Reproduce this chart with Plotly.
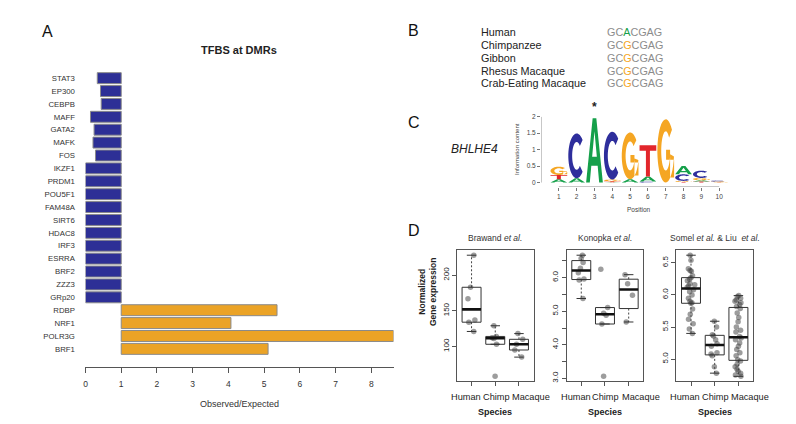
import numpy as np
import plotly.graph_objects as go

W, H = 796, 424
FONT = "Liberation Sans, Arial, Helvetica, sans-serif"


def fx(p):
    return p / W


def fy(p):
    return 1 - p / H


# ---------------- Panel A data ----------------
tf_names = ["STAT3", "EP300", "CEBPB", "MAFF", "GATA2", "MAFK", "FOS", "IKZF1",
            "PRDM1", "POU5F1", "FAM48A", "SIRT6", "HDAC8", "IRF3", "ESRRA", "BRF2",
            "ZZZ3", "GRp20", "RDBP", "NRF1", "POLR3G", "BRF1"]
tf_ratio = [0.33, 0.42, 0.44, 0.14, 0.24, 0.21, 0.28, 0.0, 0.0, 0.0, 0.0, 0.0,
            0.0, 0.0, 0.0, 0.0, 0.0, 0.0, 5.36, 4.07, 8.62, 5.11]
obs_ticks = [0, 1, 2, 3, 4, 5, 6, 7, 8]

# ---------------- Panel B data ----------------
species_b = ["Human", "Chimpanzee", "Gibbon", "Rhesus Macaque", "Crab-Eating Macaque"]
seq_b = ["GCACGAG", "GCGCGAG", "GCGCGAG", "GCGCGAG", "GCGCGAG"]
var_site = 2

# ---------------- Panel C data ----------------
logo_pos = [1, 2, 3, 4, 5, 6, 7, 8, 9, 10]
ic_A = [0.10, 0.13, 1.95, 0.01, 0.10, 0.15, 0.00, 0.25, 0.04, 0.00]
ic_C = [0.00, 1.36, 0.00, 1.45, 0.00, 0.03, 0.00, 0.20, 0.22, 0.03]
ic_G = [0.25, 0.00, 0.00, 0.05, 1.42, 0.00, 1.92, 0.03, 0.07, 0.02]
ic_T = [0.13, 0.00, 0.00, 0.03, 0.00, 0.95, 0.00, 0.02, 0.03, 0.01]
ic_ticks = [0, 0.5, 1, 1.5, 2]
star_pos = 3

# ---------------- Panel D data ----------------
groups = ["Human", "Chimp", "Macaque"]
brawand_human = [228, 183, 167, 137, 134, 121]
brawand_chimp = [129, 114, 112, 111, 103, 58]
brawand_macaque = [118, 110, 103, 95, 85]
konopka_human = [5.38, 5.93, 5.96, 6.15, 6.28, 6.45, 6.57, 6.67]
konopka_chimp = [3.06, 4.62, 4.88, 4.94, 5.11, 6.25]
konopka_macaque = [4.68, 5.48, 5.82, 6.09]
somel_human = [5.40, 5.47, 5.55, 5.62, 5.70, 5.78, 5.87, 5.88, 5.90, 5.95, 6.00,
               6.05, 6.08, 6.12, 6.14, 6.16, 6.18, 6.22, 6.25, 6.27, 6.30, 6.37,
               6.38, 6.41, 6.54, 6.62]
somel_chimp = [4.78, 4.88, 5.05, 5.08, 5.10, 5.20, 5.24, 5.30, 5.36, 5.38, 5.50, 5.59]
somel_macaque = [4.73, 4.75, 4.78, 4.81, 4.84, 4.88, 4.92, 4.97, 4.99, 5.05, 5.10,
                 5.15, 5.20, 5.25, 5.30, 5.33, 5.35, 5.42, 5.45, 5.50, 5.58, 5.65,
                 5.72, 5.79, 5.82, 5.85, 5.88, 5.90, 5.92, 5.95, 5.97, 5.99]
d_titles = ["Brawand <i>et al.</i>", "Konopka <i>et al.</i>",
            "Somel <i>et al.</i> & Liu  <i>et al.</i>"]
d_ticks = [[100, 150, 200], [3.0, 3.5, 4.0, 4.5, 5.0, 5.5, 6.0, 6.5], [5.0, 5.5, 6.0, 6.5]]
d_ticktext = [["100", "150", "200"], ["3.0", "", "4.0", "", "5.0", "", "6.0", ""],
              ["5.0", "5.5", "6.0", "6.5"]]

# ---------------- styles ----------------
BLUE = "#2D2F96"
ORANGE = "#EBA326"
COL_A, COL_C, COL_G, COL_T = "#15A04A", "#2E2E9C", "#F5A623", "#E2262B"
AXC = "#555555"
GROUP_LABEL_X = [0.76, 2.04, 3.50]   # label placement (layout), spread as in the figure

fig = go.Figure()
ann = []


def text(t, x, y, size, color="#222", xanchor="center", angle=0):
    ann.append(dict(text=t, x=fx(x), y=fy(y), xref="paper", yref="paper", showarrow=False,
                    font=dict(family=FONT, size=size, color=color), xanchor=xanchor,
                    yanchor="middle", textangle=angle))


# ---------------- Panel A ----------------
bar_cols = [BLUE if r < 1 else ORANGE for r in tf_ratio]
fig.add_trace(go.Bar(y=tf_names, x=[r - 1 for r in tf_ratio], base=1, orientation="h",
                     marker=dict(color=bar_cols, line=dict(color="#8a8a8a", width=1)),
                     xaxis="x", yaxis="y", hoverinfo="skip"))
fig.update_layout(
    bargap=0.15,
    xaxis=dict(domain=[fx(83.7), fx(392.5)], range=[0, max(tf_ratio)], anchor="y",
               tickvals=obs_ticks, ticks="outside", ticklen=5, tickcolor=AXC,
               showline=True, linecolor=AXC, linewidth=1, showgrid=False, zeroline=False,
               tickfont=dict(family=FONT, size=8.5, color="#333"), ticklabelstandoff=4),
    yaxis=dict(domain=[fy(367), fy(68.5)], range=[len(tf_names) + 0.38, -0.5], anchor="x",
               type="category", categoryorder="array", categoryarray=tf_names,
               ticks="outside", ticklen=8, tickcolor="rgba(0,0,0,0)", showline=False,
               showgrid=False, zeroline=False,
               tickfont=dict(family=FONT, size=7.8, color="#333")),
)
text("A", 46, 28, 16, "#111")
text("<b>TFBS at DMRs</b>", 238, 47, 11, "#222")
text("Observed/Expected", 238, 405, 9, "#333")

# ---------------- Panel B ----------------
text("B", 413, 27, 16, "#111")
row_y = [28.3, 41.7, 54.6, 67.4, 80.3]
for name, seq, yy in zip(species_b, seq_b, row_y):
    text(name, 478, yy, 10.8, "#222", xanchor="left")
    c = seq[var_site]
    vc = COL_A if c == "A" else COL_G
    s = (seq[:var_site] + f"<span style='color:{vc}'>{c}</span>" + seq[var_site + 1:])
    text(f"<span style='color:#8c8c8c'>{s}</span>", 605, yy, 10.8, "#8c8c8c", xanchor="left")

# ---------------- Panel C (sequence logo) ----------------
text("C", 413, 120, 16, "#111")
text("<i>BHLHE4</i>", 448, 147, 12, "#222", xanchor="left")
text("Information content", 517, 147, 6, "#444", angle=-90)


def arc(cx, cy, rx, ry, a0, a1, n=36):
    t = np.radians(np.linspace(a0, a1, n))
    return list(zip(cx + rx * np.cos(t), cy + ry * np.sin(t)))


def rect(x0, y0, x1, y1):
    return [(x0, y0), (x1, y0), (x1, y1), (x0, y1)]


GLYPHS = {
    "C": [arc(0.5, 0.5, 0.5, 0.5, 45, 315) + arc(0.5, 0.5, 0.27, 0.31, 315, 45)],
    "G": [arc(0.5, 0.5, 0.5, 0.5, 42, 350) + arc(0.5, 0.5, 0.27, 0.31, 350, 42),
          rect(0.52, 0.36, 1.0, 0.52), rect(0.76, 0.08, 1.0, 0.52)],
    "A": [[(0, 0), (0.22, 0), (0.31, 0.26), (0.69, 0.26), (0.78, 0), (1, 0), (0.61, 1), (0.39, 1)],
          [(0.36, 0.40), (0.5, 0.80), (0.64, 0.40)]],
    "T": [rect(0, 0.83, 1, 1), rect(0.38, 0, 0.62, 0.83)],
}
LCOL = {"A": COL_A, "C": COL_C, "G": COL_G, "T": COL_T}
LW = 0.94
shapes = []
for i, p in enumerate(logo_pos):
    stack = sorted([("A", ic_A[i]), ("C", ic_C[i]), ("G", ic_G[i]), ("T", ic_T[i])],
                   key=lambda t: t[1])
    base = 0.0
    for letter, h in stack:
        if h <= 0:
            continue
        path = ""
        for poly in GLYPHS[letter]:
            pts = [(p - LW / 2 + u * LW, base + v * h) for u, v in poly]
            path += "M" + "L".join(f"{a:.4f},{b:.4f}" for a, b in pts) + "Z"
        shapes.append(dict(type="path", path=path, xref="x2", yref="y2",
                           fillcolor=LCOL[letter], line=dict(width=0)))
        base += h

y2_bottom = -0.13
shapes.append(dict(type="line", xref="x2", yref="y2", x0=min(logo_pos), x1=max(logo_pos),
                   y0=y2_bottom, y1=y2_bottom, line=dict(color="#777", width=0.8)))
shapes.append(dict(type="line", xref="x2", yref="y2", x0=0, x1=0, y0=min(ic_ticks),
                   y1=max(ic_ticks), line=dict(color="#777", width=0.8)))
ann.append(dict(text="<b>*</b>", x=star_pos, y=fy(104), xref="x2", yref="paper",
                showarrow=False, font=dict(family=FONT, size=12, color="#222"),
                yanchor="middle"))
fig.add_trace(go.Scatter(x=[None], y=[None], xaxis="x2", yaxis="y2", showlegend=False))
fig.update_layout(
    xaxis2=dict(domain=[fx(540.4), fx(729.7)], range=[0, 10.6], anchor="y2",
                tickvals=logo_pos, ticks="outside", ticklen=3, tickcolor="#777", tickwidth=0.8,
                showline=False, showgrid=False, zeroline=False,
                tickfont=dict(family=FONT, size=6.5, color="#444")),
    yaxis2=dict(domain=[fy(185), fy(114)], range=[y2_bottom, 2.0], anchor="x2",
                tickvals=ic_ticks, ticktext=["0", "0.5", "1", "1.5", "2"], ticks="outside",
                ticklen=3, tickcolor="#777", tickwidth=0.8, showline=False, showgrid=False,
                zeroline=False, tickfont=dict(family=FONT, size=6.5, color="#444")),
)
text("Position", 638.5, 207.5, 6.5, "#444")

# ---------------- Panel D (boxplots) ----------------
text("D", 413, 229, 16, "#111")
text("<b>Normalized<br>Gene expression</b>", 426.5, 291, 8.5, "#222", angle=-90)


def fivenum(v):
    v = np.sort(np.asarray(v, float))
    n = len(v)
    n4 = np.floor((n + 3) / 2) / 2
    d = np.array([1, n4, (n + 1) / 2, n + 1 - n4, n]) - 1
    return 0.5 * (v[np.floor(d).astype(int)] + v[np.ceil(d).astype(int)])


def box_stats(v):
    v = np.sort(np.asarray(v, float))
    q = fivenum(v)
    iqr = q[3] - q[1]
    lo = v[v >= q[1] - 1.5 * iqr].min()
    hi = v[v <= q[3] + 1.5 * iqr].max()
    return q[1], q[2], q[3], lo, hi


panels = [
    (brawand_human, brawand_chimp, brawand_macaque),
    (konopka_human, konopka_chimp, konopka_macaque),
    (somel_human, somel_chimp, somel_macaque),
]
dom_px = [(456, 533), (566, 643), (676, 753)]
for k, (data, (x0p, x1p)) in enumerate(zip(panels, dom_px)):
    ax = k + 3
    xa, ya = f"x{ax}", f"y{ax}"
    bx, by, mx, my, wx, wy, sx, sy = [], [], [], [], [], [], [], []
    px_all, py_all = [], []
    for g, vals in enumerate(data, start=1):
        q1, med, q3, lo, hi = box_stats(vals)
        bx += [g - 0.4, g + 0.4, g + 0.4, g - 0.4, g - 0.4, None]
        by += [q1, q1, q3, q3, q1, None]
        mx += [g - 0.4, g + 0.4, None]
        my += [med, med, None]
        wx += [g, g, None, g, g, None]
        wy += [q3, hi, None, q1, lo, None]
        sx += [g - 0.2, g + 0.2, None, g - 0.2, g + 0.2, None]
        sy += [hi, hi, None, lo, lo, None]
        px_all += [g] * len(vals)
        py_all += list(vals)
    common = dict(xaxis=xa, yaxis=ya, mode="lines", hoverinfo="skip", showlegend=False)
    fig.add_trace(go.Scatter(x=wx, y=wy, line=dict(color="#444", width=1, dash="2px,2px"), **common))
    fig.add_trace(go.Scatter(x=sx, y=sy, line=dict(color="#333", width=1), **common))
    fig.add_trace(go.Scatter(x=bx, y=by, line=dict(color="#333", width=1), **common))
    fig.add_trace(go.Box(x=px_all, y=py_all, xaxis=xa, yaxis=ya, boxpoints="all", jitter=0.45,
                         pointpos=0, width=0.8, fillcolor="rgba(0,0,0,0)",
                         line=dict(width=0, color="rgba(0,0,0,0)"),
                         marker=dict(color="rgba(60,60,60,0.5)", size=5.5),
                         showlegend=False, hoverinfo="y"))
    fig.add_trace(go.Scatter(x=mx, y=my, line=dict(color="#111", width=2.6), **common))

    allv = np.concatenate([np.asarray(v, float) for v in data])
    lo_r, hi_r = allv.min(), allv.max()
    pad = 0.04 * (hi_r - lo_r)
    fig.update_layout(**{
        f"xaxis{ax}": dict(domain=[fx(x0p), fx(x1p)], range=[0.38, 3.62], anchor=ya,
                           tickvals=[1, 2, 3], ticktext=["", "", ""], tickangle=0,
                           ticks="outside", ticklen=4, tickcolor=AXC, showline=True,
                           mirror=True, linecolor=AXC, linewidth=1, showgrid=False,
                           zeroline=False),
        f"yaxis{ax}": dict(domain=[fy(381.7), fy(249.3)], range=[lo_r - pad, hi_r + pad],
                           anchor=xa, tickvals=d_ticks[k], ticktext=d_ticktext[k],
                           tickangle=-90, ticks="outside", ticklen=4, tickcolor=AXC,
                           showline=True, mirror=True, linecolor=AXC, linewidth=1,
                           showgrid=False, zeroline=False,
                           tickfont=dict(family=FONT, size=8, color="#222")),
    })
    for gname, lx in zip(groups, GROUP_LABEL_X):
        ann.append(dict(text=gname, x=lx, y=fy(398), xref=xa, yref="paper", showarrow=False,
                        font=dict(family=FONT, size=9.2, color="#222"), yanchor="middle"))
    cx = (x0p + x1p) / 2
    text(d_titles[k], cx, 236.7, 8.5, "#333")
    text("<b>Species</b>", cx, 413, 9, "#222")

fig.update_layout(width=W, height=H, margin=dict(l=0, r=0, t=0, b=0),
                  paper_bgcolor="white", plot_bgcolor="white", showlegend=False,
                  annotations=ann, shapes=shapes, font=dict(family=FONT))
fig.write_html("out.html", config={"displayModeBar": False},
               post_script="document.body.style.margin='0';document.body.style.padding='0';")
